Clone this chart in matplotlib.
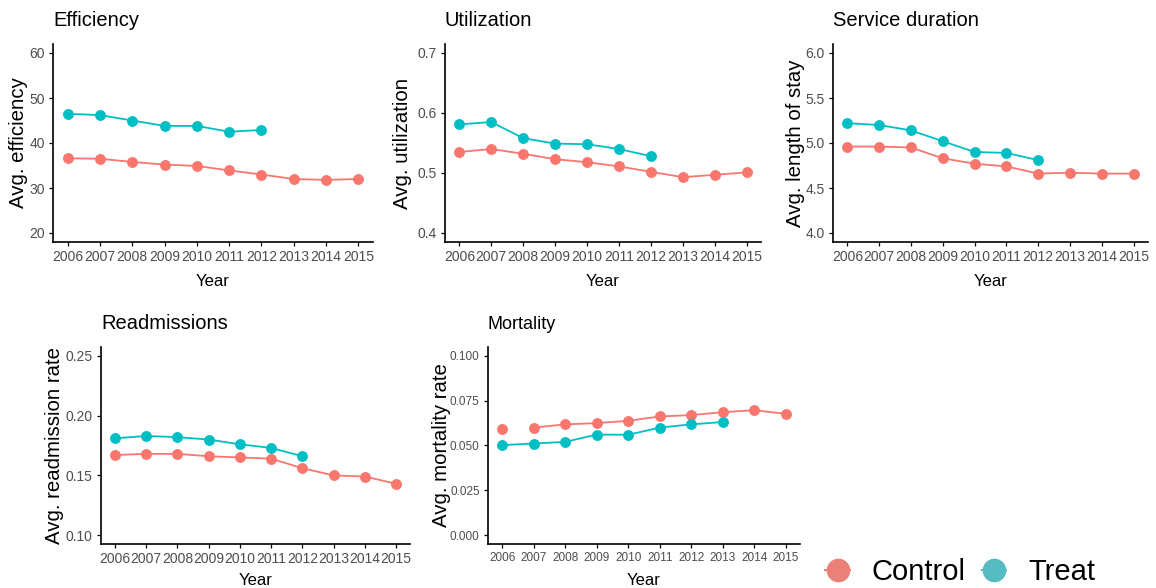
import matplotlib
matplotlib.use("Agg")
import matplotlib.pyplot as plt
from matplotlib.lines import Line2D

# Data
years = [2006, 2007, 2008, 2009, 2010, 2011, 2012, 2013, 2014, 2015]

eff_control = [36.6, 36.5, 35.8, 35.2, 34.9, 33.9, 33.0, 32.0, 31.8, 32.0]
eff_treat = [46.5, 46.2, 45.0, 43.8, 43.8, 42.5, 42.9]

util_control = [0.535, 0.540, 0.532, 0.523, 0.518, 0.511, 0.502, 0.493, 0.497, 0.501]
util_treat = [0.581, 0.585, 0.558, 0.549, 0.548, 0.540, 0.528]

los_control = [4.96, 4.96, 4.95, 4.83, 4.77, 4.74, 4.66, 4.67, 4.66, 4.66]
los_treat = [5.22, 5.20, 5.14, 5.02, 4.90, 4.89, 4.81]

readm_control = [0.167, 0.168, 0.168, 0.166, 0.165, 0.164, 0.156, 0.150, 0.149, 0.143]
readm_treat = [0.181, 0.183, 0.182, 0.180, 0.176, 0.173, 0.166]

mort_control = [0.059, 0.060, 0.0618, 0.0625, 0.0638, 0.0662, 0.067, 0.0686, 0.0697, 0.0677]
mort_treat = [0.0502, 0.0511, 0.052, 0.0561, 0.056, 0.060, 0.0618, 0.0631]

col_control = '#F8766D'
col_treat = '#00BFC4'

plt.rcParams['font.family'] = ['Liberation Sans', 'DejaVu Sans']

W, H = 1156, 588
fig = plt.figure(figsize=(W / 100, H / 100), dpi=100)


def panel(box, title, ylabel, ctrl, treat, yticks, ylab_x, title_size=14.5,
          tick_size=10, ctrl_line_start=0, yfmt='{:g}', xlab_y=-0.2):
    l, t, r, b = box
    ax = fig.add_axes([l / W, 1 - b / H, (r - l) / W, (b - t) / H])
    ax.plot(years[ctrl_line_start:], ctrl[ctrl_line_start:], color=col_control, lw=1.3)
    ax.plot(years[:len(ctrl)], ctrl, 'o', color=col_control, ms=6.8)
    ax.plot(years[:len(treat)], treat, '-o', color=col_treat, lw=1.3, ms=6.8)
    lo, hi = yticks[0], yticks[-1]
    pad = 0.05 * (hi - lo)
    ax.set_ylim(lo - pad, hi + pad)
    ax.set_xlim(2005.55, 2015.45)
    ax.set_xticks(years)
    ax.set_xticklabels([str(y) for y in years], fontsize=tick_size, color='#4D4D4D')
    ax.set_yticks(yticks)
    ax.set_yticklabels([yfmt.format(v) for v in yticks], fontsize=tick_size, color='#4D4D4D')
    for s in ['top', 'right']:
        ax.spines[s].set_visible(False)
    for s in ['left', 'bottom']:
        ax.spines[s].set_linewidth(1.2)
    ax.tick_params(length=3, width=0.9, pad=3)
    ax.set_title(title, loc='left', fontsize=title_size, pad=13)
    ax.set_ylabel(ylabel, fontsize=14.7, va='center')
    ax.yaxis.set_label_coords(ylab_x, 0.5)
    ax.set_xlabel('Year', fontsize=12, va='center')
    ax.xaxis.set_label_coords(0.5, xlab_y)
    return ax


panel((53, 44, 373, 242), 'Efficiency', 'Avg. efficiency', eff_control, eff_treat,
      [20, 30, 40, 50, 60], -0.109)
panel((445, 44, 761, 242), 'Utilization', 'Avg. utilization', util_control, util_treat,
      [0.4, 0.5, 0.6, 0.7], -0.133)
panel((833, 44, 1148, 242), 'Service duration', 'Avg. length of stay', los_control, los_treat,
      [4.0, 4.5, 5.0, 5.5, 6.0], -0.12, yfmt='{:.1f}')
panel((101, 347, 410, 544), 'Readmissions', 'Avg. readmission rate', readm_control, readm_treat,
      [0.10, 0.15, 0.20, 0.25], -0.149, yfmt='{:.2f}', xlab_y=-0.185)
panel((488, 347, 800, 544), 'Mortality', 'Avg. mortality rate', mort_control, mort_treat,
      [0.0, 0.025, 0.05, 0.075, 0.1], -0.148, title_size=13, tick_size=8.5,
      ctrl_line_start=1, yfmt='{:.3f}', xlab_y=-0.185)

handles = [Line2D([], [], color='#EA8078', marker='o', ms=16, lw=1.5),
           Line2D([], [], color='#56BCC2', marker='o', ms=16, lw=1.5)]
fig.legend(handles, ['Control', 'Treat'], loc='center left', ncol=2,
           bbox_to_anchor=(799 / W, 1 - 572 / H), frameon=False, fontsize=21,
           handlelength=0.85, handletextpad=0.74, columnspacing=0.55)

fig.savefig('out.png', dpi=100)
